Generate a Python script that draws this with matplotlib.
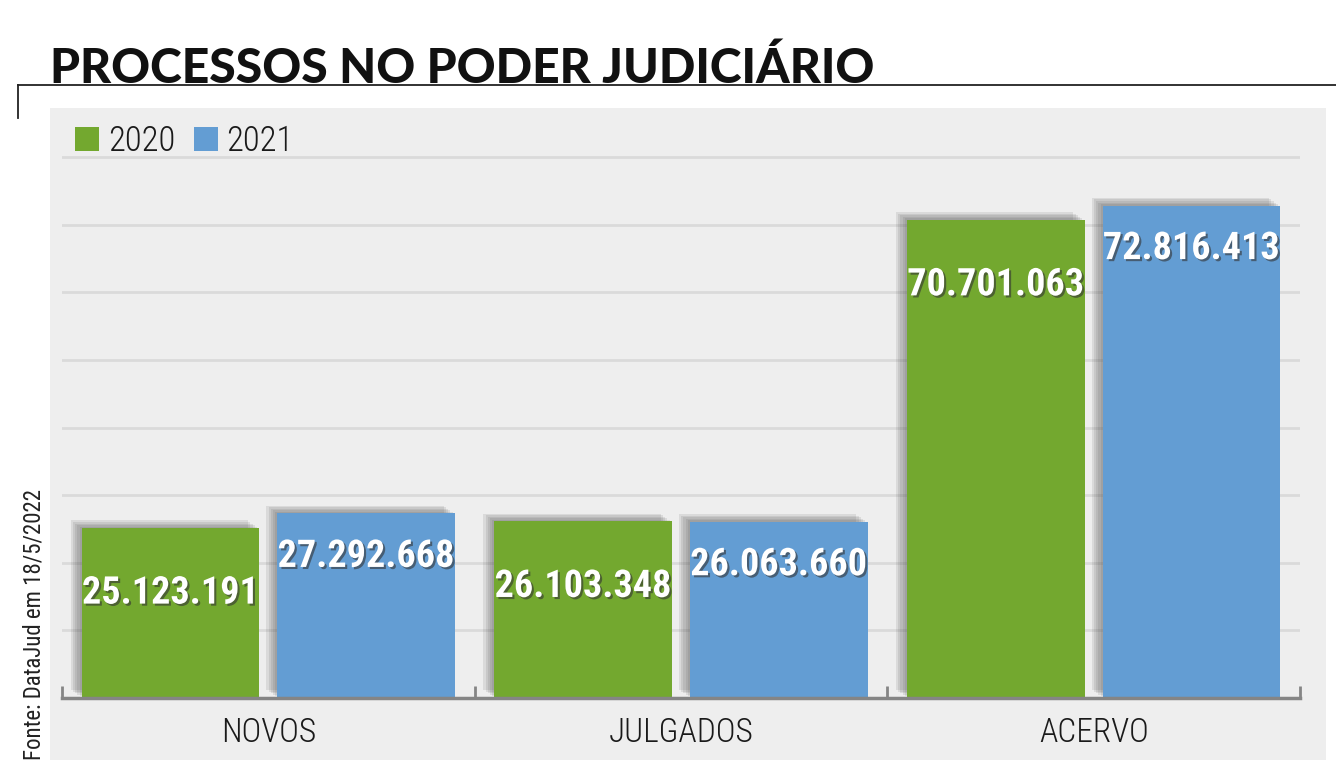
import matplotlib.pyplot as plt
import matplotlib.patheffects as pe
from matplotlib.patches import Rectangle, Patch
from matplotlib.lines import Line2D
import numpy as np

categories = ["NOVOS", "JULGADOS", "ACERVO"]
values_2020 = [25123191, 26103348, 70701063]
values_2021 = [27292668, 26063660, 72816413]
series_names = ["2020", "2021"]

GREEN = "#73a82f"
BLUE = "#639dd3"
COND = "Roboto Condensed"

W, H = 1336, 777
fig = plt.figure(figsize=(W / 100, H / 100), dpi=100)
fig.patch.set_facecolor("white")

# grey panel behind the chart
fig.patches.append(Rectangle((50 / W, 1 - 760 / H), (1326 - 50) / W, (760 - 108) / H,
                             transform=fig.transFigure, facecolor="#eeeeee",
                             edgecolor="none", zorder=-5))
# title rule
fig.add_artist(Line2D([18 / W, 1.0], [1 - 85 / H, 1 - 85 / H], transform=fig.transFigure,
                      color="#222222", lw=1.3))
fig.add_artist(Line2D([18 / W, 18 / W], [1 - 85 / H, 1 - 118 / H], transform=fig.transFigure,
                      color="#222222", lw=1.3))

fig.text(50 / W, 1 - 83 / H, "PROCESSOS NO PODER JUDICIÁRIO", family="Lato",
         fontweight=900, fontsize=34.6, color="#111111", va="baseline", ha="left")

fig.text(34 / W, 1 - 760 / H, "Fonte: DataJud em 18/5/2022", family=COND, fontweight=400,
         fontsize=16.5, rotation=90, color="#222222", ha="center", va="bottom")

left, right = 62 / W, 1300 / W
bottom = 1 - 698 / H
top = 1 - (698 - 85 * 541 / 80) / H
ax = fig.add_axes([left, bottom, right - left, top - bottom])
ax.set_facecolor("none")

x = np.arange(len(categories))
width = 0.43
off = 0.237
# soft shadow: a few stacked, faint offsets up and to the left
shadow = [pe.SimplePatchShadow(offset=(-k * 1.6, k * 1.1), shadow_rgbFace="#555555", alpha=0.13)
          for k in range(5, 0, -1)] + [pe.Normal()]
b1 = ax.bar(x - off, values_2020, width, color=GREEN, zorder=3)
b2 = ax.bar(x + off, values_2021, width, color=BLUE, zorder=3)
for b in list(b1) + list(b2):
    b.set_path_effects(shadow)

txt_fx = [pe.SimplePatchShadow(offset=(1.5, -1.5), shadow_rgbFace="#333333", alpha=0.6), pe.Normal()]
for bars, vals, dy in [(b1, values_2020, -65), (b2, values_2021, -43)]:
    for bar, v in zip(bars, vals):
        lab = f"{v:,}".replace(",", ".")
        ax.annotate(lab, (bar.get_x() + bar.get_width() / 2, v), xytext=(0, dy),
                    textcoords="offset pixels", ha="center", va="center", family=COND,
                    fontweight="bold", fontsize=27.5, color="white", zorder=5,
                    path_effects=txt_fx)

ax.set_xlim(-0.5, 2.5)
ax.set_ylim(0, 85e6)
ax.set_yticks(np.arange(10e6, 80e6 + 1, 10e6))
ax.yaxis.grid(True, color="#dadada", lw=2)
ax.set_axisbelow(True)
ax.tick_params(axis="y", left=False, labelleft=False)
for s in ["top", "right", "left"]:
    ax.spines[s].set_visible(False)
ax.spines["bottom"].set_color("#858585")
ax.spines["bottom"].set_linewidth(2.5)
ax.spines["bottom"].set_zorder(4)

ax.set_xticks(x)
ax.set_xticklabels(categories, family=COND, fontweight=300, fontsize=24, color="#1a1a1a")
ax.tick_params(axis="x", length=0, pad=14)
ax.set_xticks([-0.5, 0.5, 1.5, 2.5], minor=True)
ax.tick_params(axis="x", which="minor", direction="in", length=9, width=2, color="#858585")

handles = [Patch(facecolor=GREEN), Patch(facecolor=BLUE)]
leg = fig.legend(handles, series_names, loc="center left", bbox_to_anchor=(75 / W, 1 - 141 / H),
                 ncol=2, frameon=False, prop={"family": COND, "weight": 300, "size": 25},
                 handlelength=0.69, handleheight=0.69, handletextpad=0.25,
                 columnspacing=0.55, borderpad=0, borderaxespad=0)
for t in leg.get_texts():
    t.set_color("#1a1a1a")

fig.savefig("out.png", dpi=100)
